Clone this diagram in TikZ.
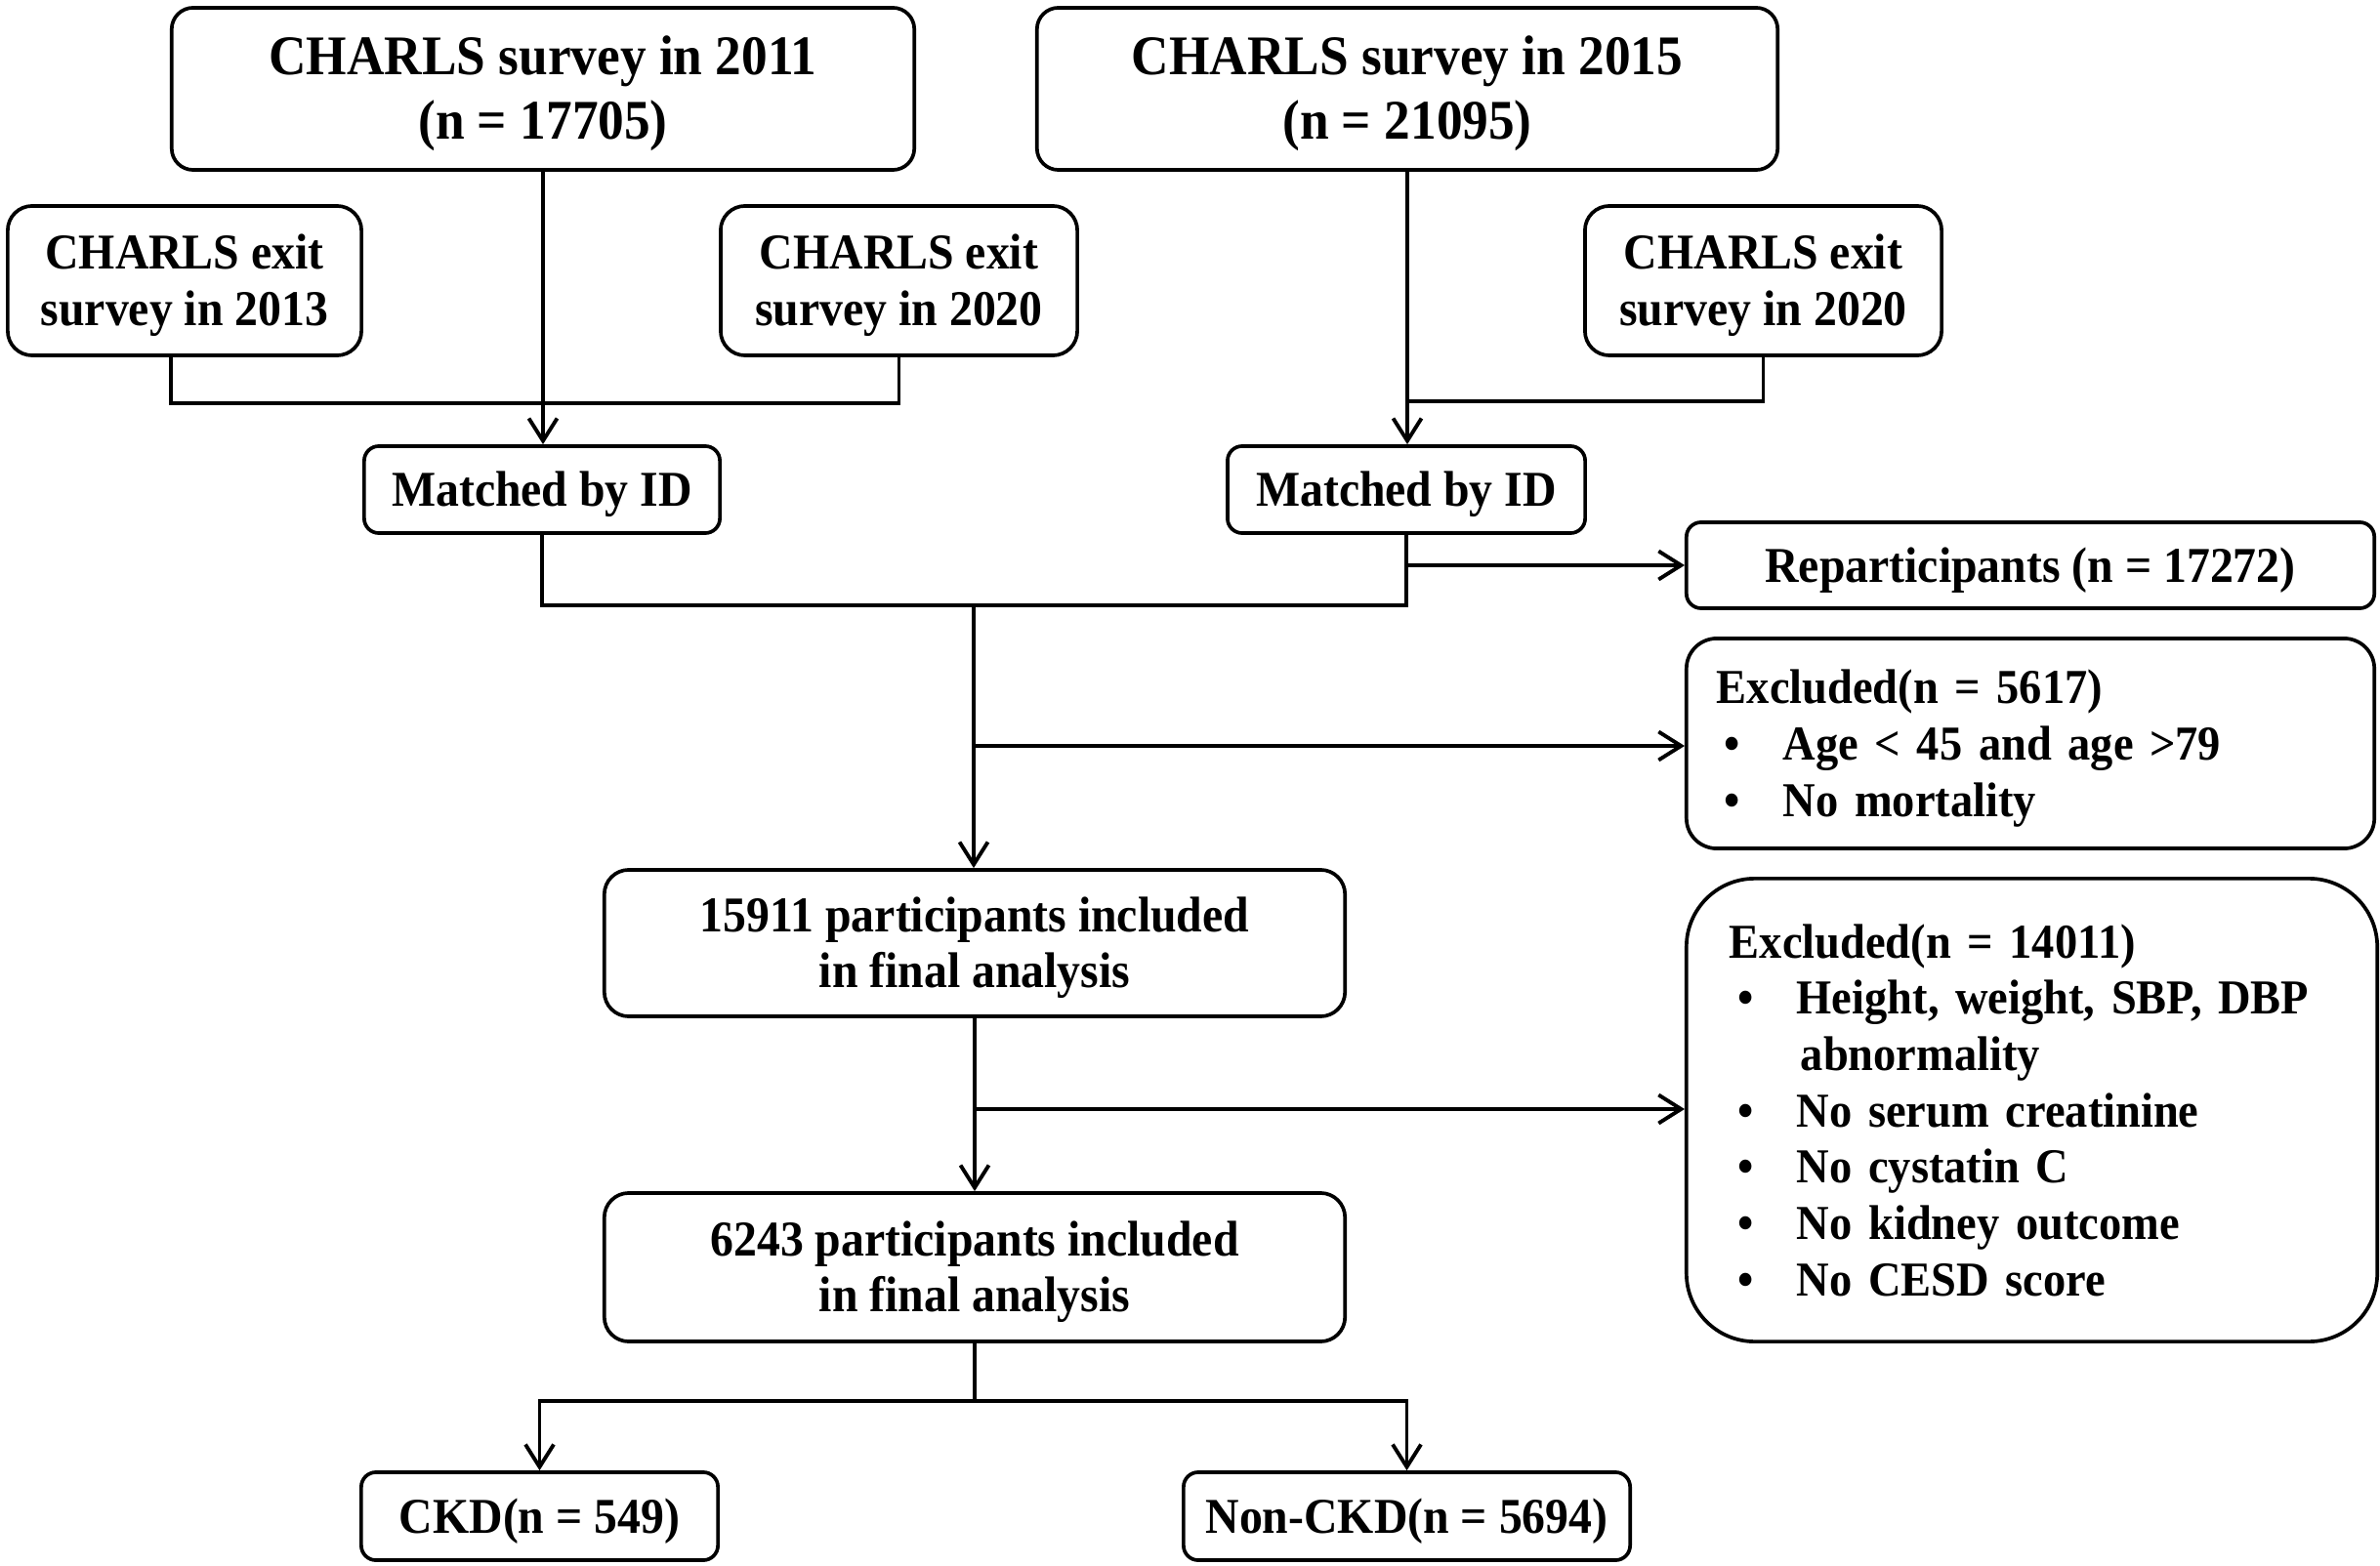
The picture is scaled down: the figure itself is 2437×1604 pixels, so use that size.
\documentclass[tikz,border=0pt]{standalone}
\usepackage{fontspec}
\setmainfont{Liberation Serif}[FakeStretch=0.93]
\usetikzlibrary{arrows.meta}
\newcommand{\Tf}{\fontsize{16.3pt}{18.5pt}\selectfont\bfseries}
\newcommand{\Nf}{\fontsize{14.6pt}{16.4pt}\selectfont\bfseries}
\newcommand{\Ef}{\fontsize{14.2pt}{16.4pt}\selectfont\bfseries}
\newcommand{\bul}[1]{\hspace*{#1}\makebox[0.60cm][l]{•}}
% centred / left-aligned text blocks, lowered slightly inside their box
\newcommand{\ctext}[1]{\raisebox{-0.055cm}[\height][\depth]{\begin{tabular}{@{}c@{}}#1\end{tabular}}}
\newcommand{\ltext}[1]{\raisebox{-0.055cm}[\height][\depth]{\begin{tabular}{@{}l@{}}#1\end{tabular}}}
\begin{document}
\begin{tikzpicture}[x=0.01cm,y=-0.01cm,
  box/.style={draw, line width=1.05pt, inner sep=0pt, font=\Nf},
  arr/.style={line width=1.1pt, -{Straight Barb[length=0.23cm,width=0.29cm]}},
  ln/.style={line width=1.1pt}]
\useasboundingbox (0,0) rectangle (2437,1604);
% top surveys
\node[box, rounded corners=0.22cm, font=\Tf, minimum width=7.6cm, minimum height=1.66cm] (s11) at (556,91) {\ctext{CHARLS survey in 2011\\(n = 17705)}};
\node[box, rounded corners=0.22cm, font=\Tf, minimum width=7.58cm, minimum height=1.66cm] (s15) at (1441,91) {\ctext{CHARLS survey in 2015\\(n = 21095)}};
% exit surveys
\node[box, rounded corners=0.25cm, minimum width=3.62cm, minimum height=1.53cm] (x13) at (189,287.5) {\ctext{CHARLS exit\\survey in 2013}};
\node[box, rounded corners=0.25cm, minimum width=3.65cm, minimum height=1.53cm] (x20a) at (920.5,287.5) {\ctext{CHARLS exit\\survey in 2020}};
\node[box, rounded corners=0.25cm, minimum width=3.65cm, minimum height=1.53cm] (x20b) at (1805.5,287.5) {\ctext{CHARLS exit\\survey in 2020}};
% matched
\node[box, rounded corners=0.15cm, minimum width=3.64cm, minimum height=0.89cm] (m1) at (555,501.5) {\ctext{Matched by ID}};
\node[box, rounded corners=0.15cm, minimum width=3.66cm, minimum height=0.89cm] (m2) at (1440,501.5) {\ctext{Matched by ID}};
% right column
\node[box, rounded corners=0.15cm, minimum width=7.04cm, minimum height=0.88cm] (rep) at (2079,579) {\ctext{Reparticipants (n = 17272)}};
\node[box, font=\Ef, rounded corners=0.31cm, minimum height=2.15cm, align=left, text width=6.42cm, inner xsep=0.31cm] (ex1) at (2079,761.5)
  {\ltext{Excluded(n = 5617)\\\bul{0.08cm}Age < 45 and age >79\\\bul{0.08cm}No mortality}};
\node[box, font=\Ef, rounded corners=0.7cm, minimum height=4.74cm, align=left, text width=6.19cm, inner xsep=0.44cm] (ex2) at (2080.5,1137)
  {\ltext{Excluded(n = 14011)\\\bul{0.09cm}Height, weight, SBP, DBP\\\hspace*{0.73cm}abnormality\\\bul{0.09cm}No serum creatinine\\\bul{0.09cm}No cystatin C\\\bul{0.09cm}No kidney outcome\\\bul{0.09cm}No CESD score}};
% central column
\node[box, rounded corners=0.25cm, minimum width=7.58cm, minimum height=1.50cm] (p1) at (998,966) {\ctext{15911 participants included\\in final analysis}};
\node[box, rounded corners=0.25cm, minimum width=7.58cm, minimum height=1.52cm] (p2) at (998,1298) {\ctext{6243 participants included\\in final analysis}};
\node[box, rounded corners=0.15cm, minimum width=3.65cm, minimum height=0.90cm] (ckd) at (552.5,1553) {\ctext{CKD(n = 549)}};
\node[box, rounded corners=0.15cm, minimum width=4.57cm, minimum height=0.90cm] (nckd) at (1440.5,1553) {\ctext{Non-CKD(n = 5694)}};
% junctions
\coordinate (j1) at (175,413);
\coordinate (j2) at (1806,411);
\coordinate (j3) at (997,620);
\coordinate (j4) at (1441,579);
\coordinate (j5) at (997,764);
\coordinate (j6) at (998,1136);
\coordinate (j7) at (998,1435);
% connectors
\draw[arr] (s11.south) -- (s11.south |- m1.north);
\draw[ln] (x13.south -| j1) -- (j1) -- (j1 -| x20a.south) -- (x20a.south);
\draw[arr] (s15.south) -- (s15.south |- m2.north);
\draw[ln] (x20b.south) -- (x20b.south |- j2) -- (j2 -| s15.south);
\draw[ln] (m1.south) -- (m1.south |- j3) -- (j3 -| m2.south) -- (m2.south);
\draw[arr] (j4) -- (j4 -| rep.west);
\draw[arr] (j3) -- (j3 |- p1.north);
\draw[arr] (j5) -- (j5 -| ex1.west);
\draw[arr] (p1.south) -- (p1.south |- p2.north);
\draw[arr] (j6) -- (j6 -| ex2.west);
\draw[ln] (p2.south) -- (j7);
\draw[arr] (j7) -- (j7 -| ckd.north) -- (ckd.north);
\draw[arr] (j7) -- (j7 -| nckd.north) -- (nckd.north);
\end{tikzpicture}
\end{document}
